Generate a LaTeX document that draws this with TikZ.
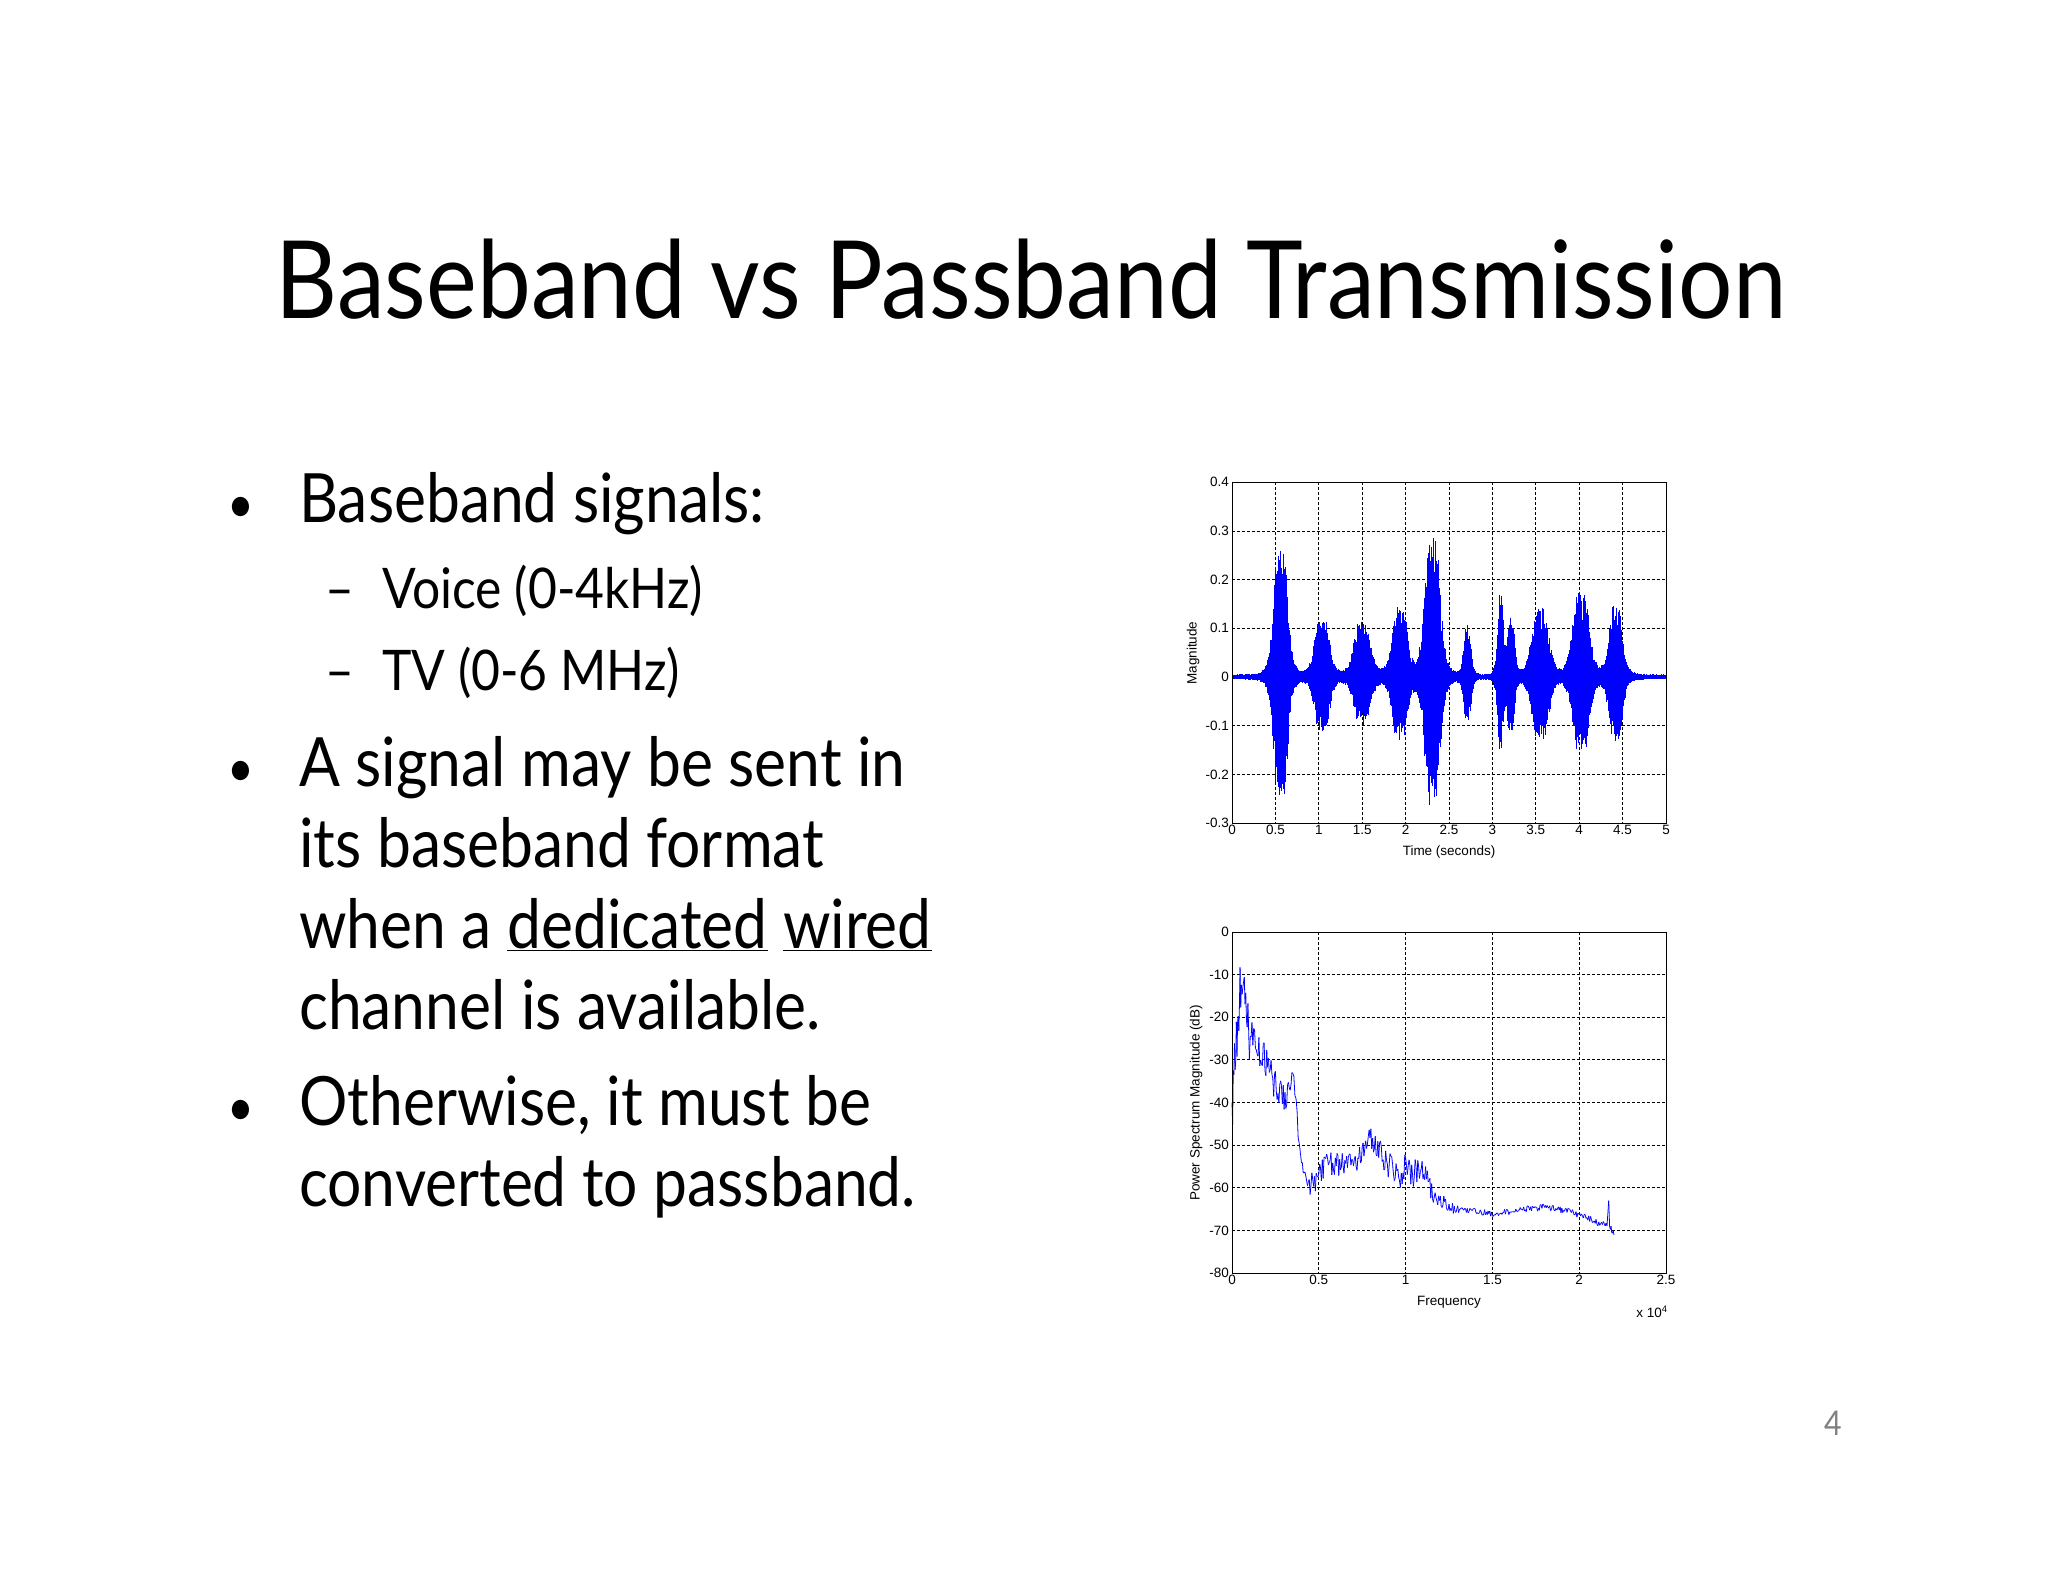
\documentclass[tikz,border=0pt]{standalone}
\usepackage{fontspec}
\setmainfont[FakeStretch=0.89]{Lato}
\newfontfamily\plotfont{Liberation Sans}
\begin{document}
\begin{tikzpicture}[x=1pt,y=-1pt,
  declare function={gb(\ta,\ca,\wa)=1/(1+(min(abs(\ta-\ca)/\wa,8))^4);},
  grid/.style={black,line width=0.8pt,dash pattern=on 3pt off 2pt},
  tick/.style={font=\plotfont\fontsize{13.5}{13.5}\selectfont},
  body/.style={anchor=base west,font=\fontsize{68}{68}\selectfont,inner sep=0pt},
  sub/.style={anchor=base west,font=\fontsize{56}{56}\selectfont,inner sep=0pt}]
\useasboundingbox (0,0) rectangle (2048,1582);
\fill[white] (0,0) rectangle (2048,1582);
% title
\node[font=\fontsize{108}{108}\selectfont,anchor=base] (title) at (1031,318) {Baseband vs Passband Transmission};
% bullets
\node[body] (b1) at (299,522) {\llap{{\fontsize{52}{52}\selectfont\textbullet}\hspace{45pt}}Baseband signals:};
\node[sub] (s1) at (382,608) {\llap{--\hspace{28pt}}Voice (0-4kHz)};
\node[sub] (s2) at (382,690) {\llap{--\hspace{28pt}}TV (0-6 MHz)};
\node[body] (b2) at (299,786) {\llap{{\fontsize{52}{52}\selectfont\textbullet}\hspace{45pt}}A signal may be sent in};
\node[body] (b3) at (299,867) {its baseband format};
\node[body] (b4) at (299,948) {when a \underline{dedicated} \underline{wired}};
\node[body] (b5) at (299,1029) {channel is available.};
\node[body] (b6) at (299,1125) {\llap{{\fontsize{52}{52}\selectfont\textbullet}\hspace{45pt}}Otherwise, it must be};
\node[body] (b7) at (299,1206) {converted to passband.};
\node[font=\fontsize{34}{34}\selectfont,text=gray] (pg) at (1833,1423) {4};
% ---------- plot 1 ----------
\begin{scope}
\foreach \i in {1,...,9} \draw[grid] ({1232+\i*43.4},482) -- ({1232+\i*43.4},823);
\foreach \v in {-0.2,-0.1,0,0.1,0.2,0.3} \draw[grid] (1232,{677-\v*487}) -- (1666,{677-\v*487});
\pgfmathsetseed{7}
\foreach \k in {0,...,860}{
  \pgfmathsetmacro{\tq}{\k*5/860}
  \pgfmathsetmacro{\env}{0.005+0.27*gb(\tq,0.56,0.09)+0.12*gb(\tq,1.04,0.1)+0.11*gb(\tq,1.5,0.11)+0.14*gb(\tq,1.93,0.1)+0.29*gb(\tq,2.31,0.1)+0.1*gb(\tq,2.71,0.05)+0.16*gb(\tq,3.09,0.04)+0.12*gb(\tq,3.21,0.05)+0.14*gb(\tq,3.55,0.11)+0.17*gb(\tq,4.02,0.11)+0.14*gb(\tq,4.42,0.09)}
  \pgfmathsetmacro{\up}{\env*(0.65+0.35*rnd)}
  \pgfmathsetmacro{\dn}{\env*(0.55+0.35*rnd)}
  \pgfmathsetmacro{\xx}{1232+\k*0.50465}
  \draw[blue,line width=0.9pt] (\xx,{677-\up*487}) -- (\xx,{677+\dn*487});
}
\draw[line width=0.9pt] (1232,482) rectangle (1666,823);
\foreach \v/\l in {-0.3/-0.3,-0.2/-0.2,-0.1/-0.1,0/0,0.1/0.1,0.2/0.2,0.3/0.3,0.4/0.4}
  \node[tick,anchor=east,inner sep=3pt] at (1232,{677-\v*487}) {\l};
\foreach \i/\l in {0/0,1/0.5,2/1,3/1.5,4/2,5/2.5,6/3,7/3.5,8/4,9/4.5,10/5}
  \node[tick,anchor=north,inner sep=2pt] at ({1232+\i*43.4},823) {\l};
\node[tick] (xl1) at (1449,852) {Time (seconds)};
\node[tick,rotate=90] (yl1) at (1193,653) {Magnitude};
\end{scope}
% ---------- plot 2 ----------
\begin{scope}
\foreach \i in {1,...,4} \draw[grid] ({1232+\i*86.8},932) -- ({1232+\i*86.8},1273);
\foreach \v in {1,...,7} \draw[grid] (1232,{932+\v*42.625}) -- (1666,{932+\v*42.625});
\pgfmathsetseed{3}
\xdef\px{1232}\xdef\py{1102.5}
\foreach \fa/\ya/\fb/\yb/\nz/\n in {
 0/-40/0.5/-10/8/14, 0.5/-10/1/-24/6/12, 1/-24/2/-31/4/20, 2/-31/3/-40/4/20, 3/-40/3.5/-32/3/10,
 3.5/-32/4/-55/2/8, 4/-55/4.5/-60/2/10, 4.5/-60/5.5/-54/3/20, 5.5/-54/7/-55/3/30, 7/-55/8/-48/2.5/20,
 8/-48/9/-55/3/20, 9/-55/10.5/-57/4/30, 10.5/-57/11/-56/4/10, 11/-56/11.5/-62/3/10, 11.5/-62/13/-65/1.5/30,
 13/-65/15/-66/0.8/40, 15/-66/18/-64.5/0.8/60, 18/-64.5/19.5/-65.5/0.8/30, 19.5/-65.5/21.6/-69/0.8/40,
 21.6/-69/21.7/-63/0/2, 21.7/-63/21.75/-69/0/2, 21.75/-69/22/-71/0.8/6}{
  \foreach \k in {1,...,\n}{
    \pgfmathsetmacro{\f}{\fa+(\fb-\fa)*\k/\n}
    \pgfmathsetmacro{\d}{\ya+(\yb-\ya)*\k/\n+\nz*rand}
    \pgfmathsetmacro{\cx}{1232+\f*17.36}
    \pgfmathsetmacro{\cy}{932-\d*4.2625}
    \draw[blue,line width=0.8pt] (\px,\py) -- (\cx,\cy);
    \xdef\px{\cx}\xdef\py{\cy}
  }
}
\draw[line width=0.9pt] (1232,932) rectangle (1666,1273);
\foreach \v in {0,...,8}
  \node[tick,anchor=east,inner sep=3pt] at (1232,{932+\v*42.625}) {\pgfmathparse{int(-10*\v)}\pgfmathresult};
\foreach \i/\l in {0/0,1/0.5,2/1,3/1.5,4/2,5/2.5}
  \node[tick,anchor=north,inner sep=2pt] at ({1232+\i*86.8},1273) {\l};
\node[tick] (xl2) at (1449,1302) {Frequency};
\node[tick] (ex) at (1652,1312) {x 10\textsuperscript{4}};
\node[tick,rotate=90] (yl2) at (1196,1103) {Power Spectrum Magnitude (dB)};
\end{scope}
\end{tikzpicture}
\end{document}
